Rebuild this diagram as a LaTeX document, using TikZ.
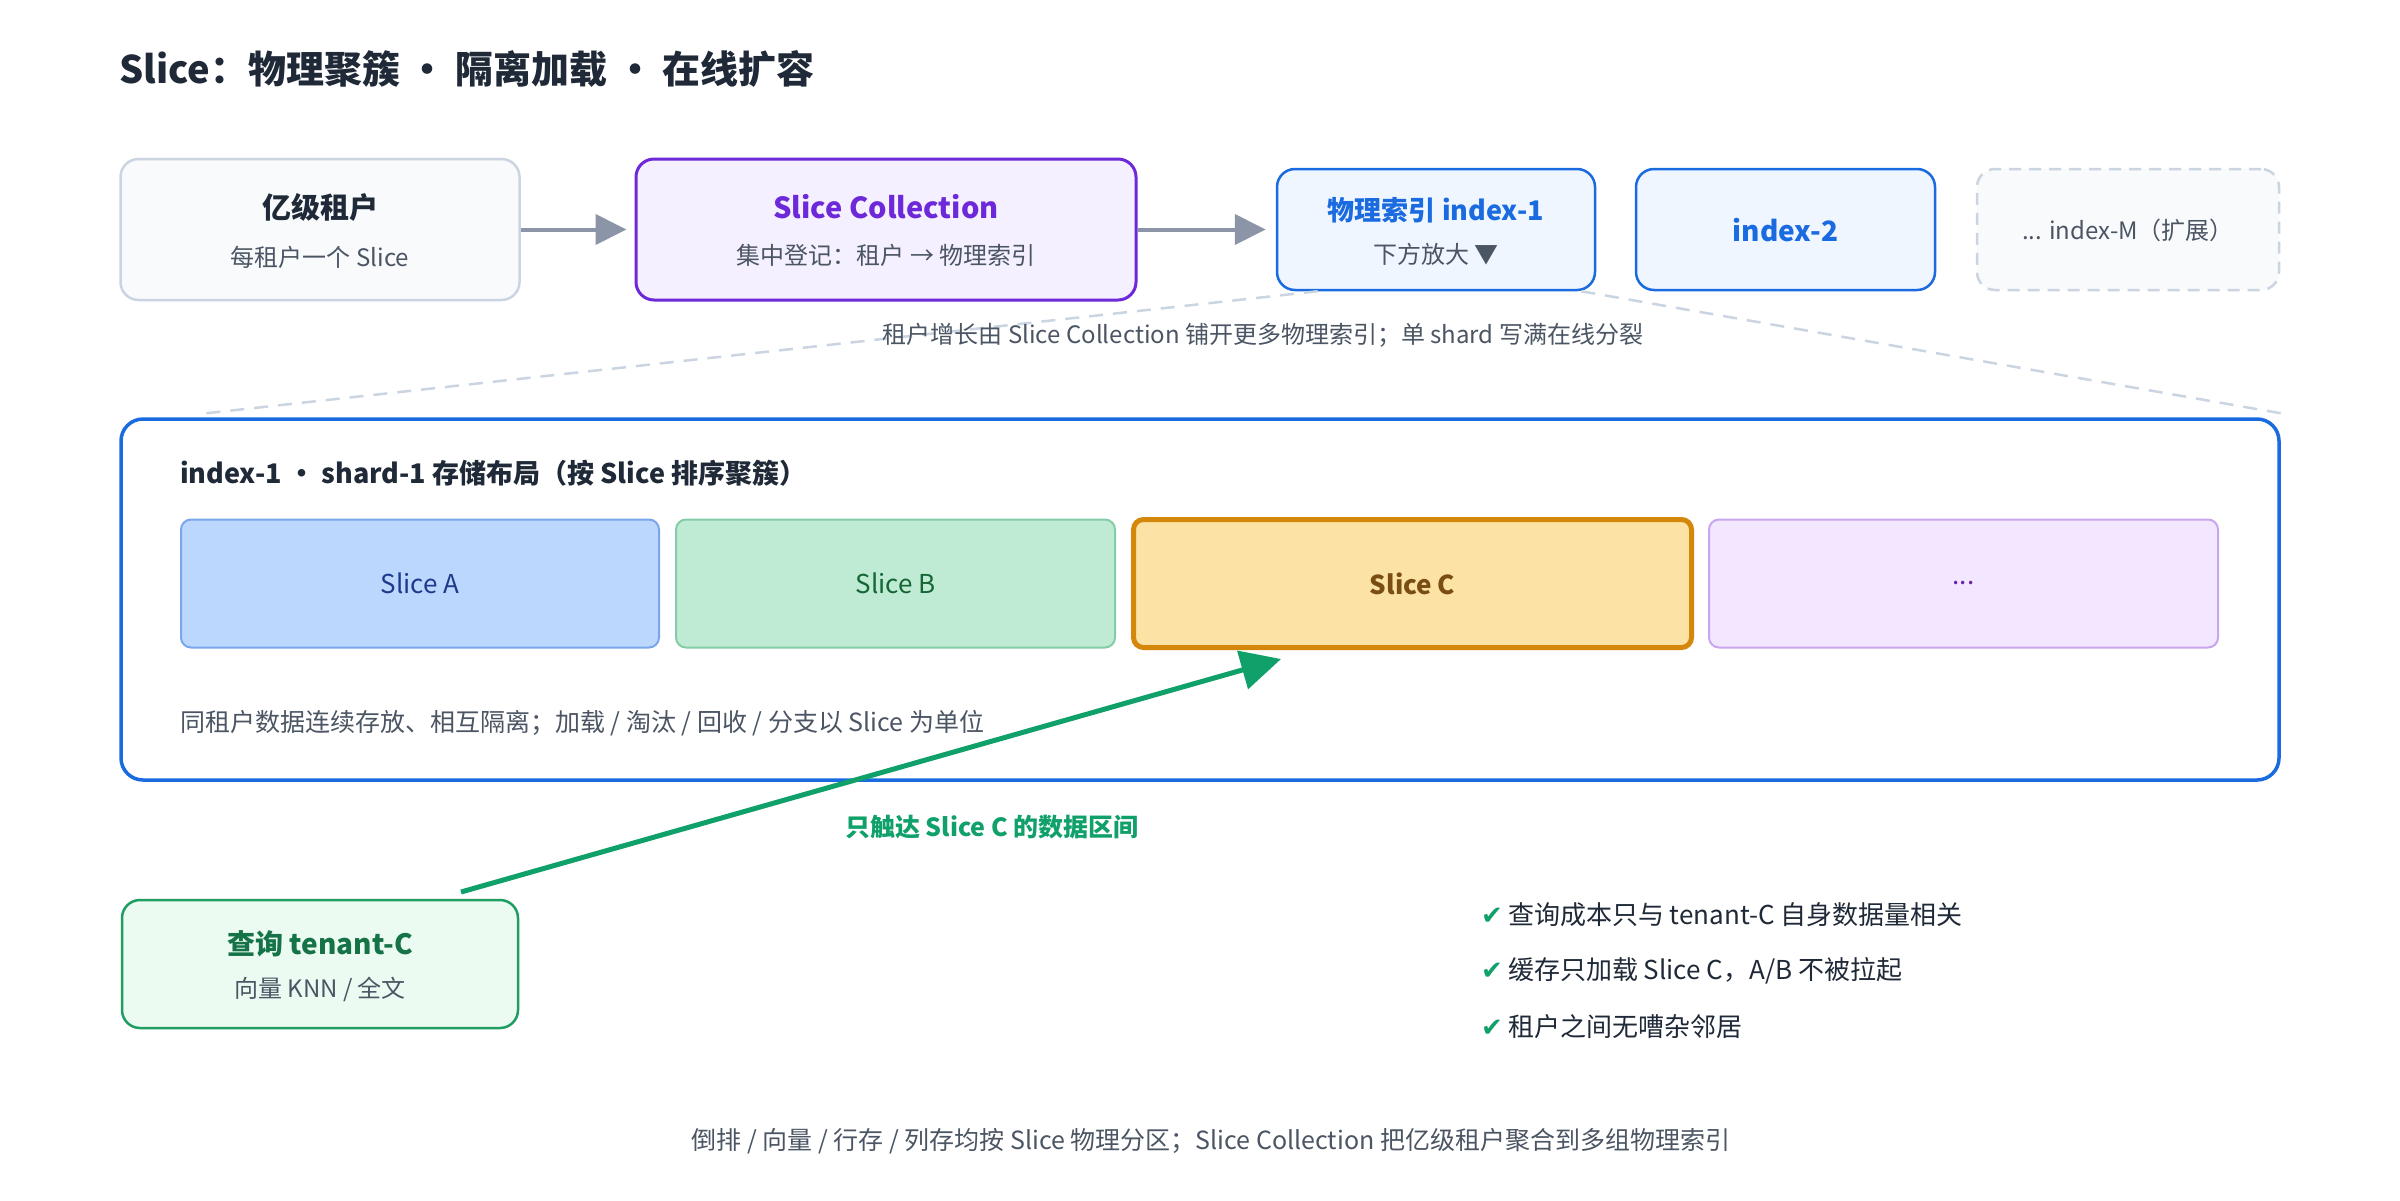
\documentclass[tikz,border=0pt]{standalone}
\usepackage{fontspec}
\setmainfont{Noto Sans CJK SC}
\newfontfamily\symfont{DejaVu Sans}
\usepackage{xcolor}
\usepackage{tikz}
\usetikzlibrary{arrows.meta}
\definecolor{ink}{HTML}{1F2937}
\definecolor{muted}{HTML}{4B5563}
\definecolor{cardgray}{HTML}{CBD5E1}
\definecolor{cardfill}{HTML}{F8FAFC}
\definecolor{collviolet}{HTML}{6D28D9}
\definecolor{collfill}{HTML}{F5F0FF}
\definecolor{idxblue}{HTML}{1A6AE0}
\definecolor{idxfill}{HTML}{EFF6FF}
\definecolor{arrowgray}{HTML}{8B95A7}
\definecolor{sliceA}{HTML}{BCD7FE}
\definecolor{sliceAline}{HTML}{7AA6EC}
\definecolor{sliceAtext}{HTML}{1E3A8A}
\definecolor{sliceB}{HTML}{BFEBD5}
\definecolor{sliceBline}{HTML}{84CCA6}
\definecolor{sliceBtext}{HTML}{166534}
\definecolor{sliceC}{HTML}{FDE2A6}
\definecolor{sliceCline}{HTML}{D4870A}
\definecolor{sliceCtext}{HTML}{7A4D12}
\definecolor{sliceM}{HTML}{F3E6FF}
\definecolor{sliceMline}{HTML}{C9A5EE}
\definecolor{sliceMtext}{HTML}{6B21A8}
\definecolor{hitgreen}{HTML}{10A06A}
\definecolor{qline}{HTML}{1F9E64}
\definecolor{qfill}{HTML}{ECFBF2}
\definecolor{qtext}{HTML}{157347}
\newcommand\fsz[1]{\fontsize{#1}{#1}\selectfont}

\begin{document}
\begin{tikzpicture}[x=1pt,y=-1pt,
    box/.style={rounded corners=18pt,line width=2.5pt,inner sep=0pt,minimum height=141pt},
    idx/.style={box,draw=idxblue,fill=idxfill,minimum width=318pt,minimum height=121pt},
    slice/.style={rounded corners=10pt,line width=2pt,inner sep=0pt,minimum height=128pt,font=\fsz{26}},
    head/.style={font=\fsz{29}\bfseries},
    sub/.style={font=\fsz{24},text=muted},
    flow/.style={draw=arrowgray,line width=4pt,-{Triangle[length=31pt,width=30pt]}},
    zoomline/.style={draw=cardgray,line width=2.5pt,dash pattern=on 14pt off 10pt},
    hit/.style={draw=hitgreen,line width=5pt,-{Triangle[length=40pt,width=39pt]}},
    checkitem/.style={anchor=west,font=\fsz{26},text=ink,inner sep=0pt}]
\useasboundingbox (0,0) rectangle (2400,1200);
\fill[white] (0,0) rectangle (2400,1200);
\node[anchor=west,font=\fsz{38}\bfseries,text=ink,inner sep=0pt] (title) at (119,69) {Slice：物理聚簇 · 隔离加载 · 在线扩容};

\node[box,draw=cardgray,fill=cardfill,minimum width=399pt] (tenants) at (320,229.5) {};
  \node[head,text=ink] (tenantsT) at (320,207) {亿级租户};
  \node[sub] (tenantsS) at (320,257) {每租户一个 Slice};
\node[box,draw=collviolet,fill=collfill,line width=3pt,minimum width=500pt] (coll) at (886,229.5) {};
  \node[head,text=collviolet] (collT) at (886,207) {Slice Collection};
  \node[sub] (collS) at (886,255) {集中登记：租户 → 物理索引};
\node[idx] (index1) at (1436,229.5) {};
  \node[font=\fsz{27}\bfseries,text=idxblue] (index1T) at (1436,210) {物理索引 index-1};
  \node[sub] (index1S) at (1436,254) {下方放大 ▼};
\node[idx,minimum width=299pt] (index2) at (1785.5,229.5) {};
  \node[font=\fsz{28}\bfseries,text=idxblue] (index2T) at (1785.5,230) {index-2};
\node[box,draw=cardgray,fill=cardfill,dash pattern=on 12pt off 8pt,minimum width=302pt,minimum height=121pt] (indexM) at (2128,229.5) {};
  \node[sub] (indexMT) at (2128,230) {... index-M（扩展）};

\draw[flow,shorten >=8pt] (tenants) -- (coll);
\draw[flow,shorten >=10pt] (coll) -- (index1);

\node[draw=idxblue,fill=white,line width=3.5pt,rounded corners=22pt,inner sep=0pt,minimum width=2158pt,minimum height=361pt] (shard) at (1200,599.5) {};
\draw[zoomline] ([xshift=42pt]index1.south west) -- ([xshift=78pt,yshift=3pt]shard.north west);
\draw[zoomline] ([xshift=-15pt]index1.south east) -- ([yshift=4pt]shard.north east);
\node[sub] (growth) at (1263,335) {租户增长由 Slice Collection 铺开更多物理索引；单 shard 写满在线分裂};

\node[anchor=west,font=\fsz{27}\bfseries,text=ink,inner sep=0pt] (shardT) at (180,473) {index-1 · shard-1 存储布局（按 Slice 排序聚簇）};
\node[slice,draw=sliceAline,fill=sliceA,text=sliceAtext,minimum width=478pt] (sliceA) at (420,583.5) {Slice A};
\node[slice,draw=sliceBline,fill=sliceB,text=sliceBtext,minimum width=439pt] (sliceB) at (895.5,583.5) {Slice B};
\node[slice,draw=sliceCline,fill=sliceC,text=sliceCtext,line width=5pt,font=\fsz{26}\bfseries,minimum width=558pt] (sliceC) at (1412.5,583.5) {Slice C};
\node[slice,draw=sliceMline,fill=sliceM,text=sliceMtext,minimum width=509pt] (sliceMore) at (1963.5,583.5) {...};
\node[anchor=west,font=\fsz{25},text=muted,inner sep=0pt] (shardN) at (180,723) {同租户数据连续存放、相互隔离；加载 / 淘汰 / 回收 / 分支以 Slice 为单位};

\node[box,draw=qline,fill=qfill,minimum width=396pt,minimum height=128pt] (query) at (320,964) {};
  \node[font=\fsz{28}\bfseries,text=qtext] (queryT) at (320,944) {查询 tenant-C};
  \node[sub] (queryS) at (320,989) {向量 KNN / 全文};

\coordinate (hitfrom) at (461,892);
\coordinate (hitto) at (1281,659);
\draw[hit] (hitfrom) -- (hitto);
\node[font=\fsz{25}\bfseries,text=hitgreen] (hitlabel) at (992,827) {只触达 Slice C 的数据区间};

\foreach \txt [count=\i] in {查询成本只与 tenant-C 自身数据量相关,缓存只加载 Slice C，A/B 不被拉起,租户之间无嘈杂邻居}
  \node[checkitem] (check\i) at (1481,859+56*\i) {\textcolor{hitgreen}{\symfont ✔}\hspace{5pt}\txt};

\node[font=\fsz{25},text=muted] (footer) at (1211,1141) {倒排 / 向量 / 行存 / 列存均按 Slice 物理分区；Slice Collection 把亿级租户聚合到多组物理索引};
\end{tikzpicture}
\end{document}
